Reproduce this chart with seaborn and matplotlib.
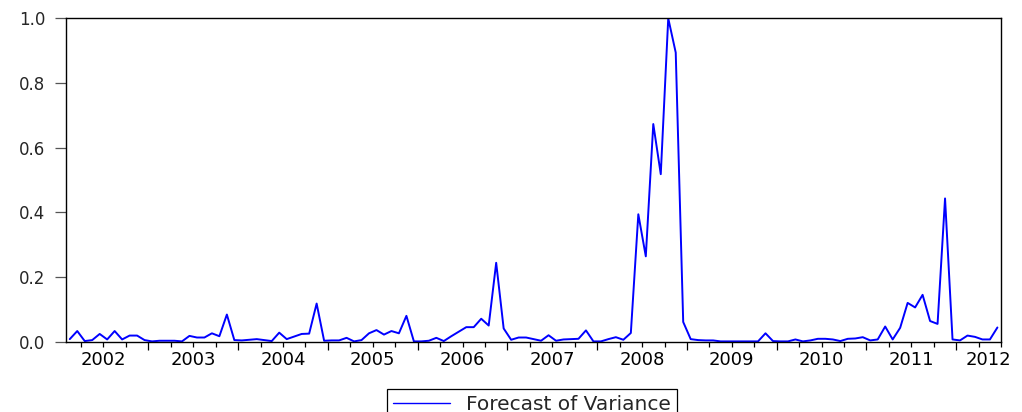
import numpy as np
import pandas as pd
import matplotlib
matplotlib.use("Agg")
import matplotlib.pyplot as plt
import matplotlib.transforms as mtransforms
import seaborn as sns

# monthly forecast of variance, 2002M02 .. 2012M06
variance = [
    0.008, 0.033, 0.002, 0.005, 0.024, 0.007, 0.033, 0.007, 0.019, 0.019,
    0.005, 0.001, 0.003, 0.003, 0.003, 0.001, 0.018, 0.013, 0.013, 0.026,
    0.017, 0.084, 0.005, 0.004, 0.006, 0.008, 0.005, 0.002, 0.028, 0.008,
    0.016, 0.024, 0.025, 0.118, 0.003, 0.004, 0.004, 0.012, 0.001, 0.005,
    0.026, 0.036, 0.022, 0.033, 0.026, 0.080, 0.001, 0.001, 0.003, 0.012,
    0.002, 0.017, 0.031, 0.045, 0.045, 0.071, 0.050, 0.244, 0.041, 0.006,
    0.013, 0.013, 0.008, 0.003, 0.020, 0.003, 0.007, 0.008, 0.009, 0.035,
    0.001, 0.001, 0.008, 0.014, 0.006, 0.027, 0.394, 0.264, 0.673, 0.518,
    1.000, 0.894, 0.061, 0.008, 0.005, 0.004, 0.004, 0.001, 0.001, 0.001,
    0.001, 0.001, 0.001, 0.026, 0.002, 0.001, 0.001, 0.007, 0.001, 0.004,
    0.009, 0.009, 0.007, 0.002, 0.009, 0.010, 0.014, 0.004, 0.007, 0.047,
    0.007, 0.043, 0.120, 0.106, 0.145, 0.064, 0.055, 0.443, 0.007, 0.004,
    0.019, 0.015, 0.007, 0.007, 0.044,
]
year_labels = ["2002", "2003", "2004", "2005", "2006", "2007",
               "2008", "2009", "2010", "2011", "2012"]
y_ticks = [0.0, 0.2, 0.4, 0.6, 0.8, 1.0]

dates = pd.date_range("2002-02-01", periods=len(variance), freq="MS")
df = pd.DataFrame({
    "t": dates.year + (dates.month - 0.5) / 12,
    "Forecast of Variance": variance,
})

sns.set_theme(style="ticks")
plt.rcParams["font.family"] = ["DejaVu Sans"]

fig = plt.figure(figsize=(10.22, 4.12), dpi=100)
ax = fig.add_axes([0.0646, 0.1706, 0.915, 0.785])

sns.lineplot(data=df, x="t", y="Forecast of Variance", color="#0000ff",
             linewidth=1.4, ax=ax, label="Forecast of Variance")

ax.set_xlabel("")
ax.set_ylabel("")

for s in ax.spines.values():
    s.set_visible(True)
    s.set_color("black")
    s.set_linewidth(1.0)

# y axis
ax.set_yticks(y_ticks)
ax.set_yticklabels([f"{v:.1f}" for v in y_ticks])
ax.tick_params(axis="y", direction="out", length=8, width=0.9, pad=7,
               labelsize=12, color="#555555", right=False)

# x axis: year boundaries + quarter ticks
yrs = [int(y) for y in year_labels]
ax.set_xticks(yrs[1:])
ax.set_xticklabels([])
quarters = [y + q for y in yrs for q in (0.25, 0.5, 0.75) if y + q <= 2012.5]
ax.set_xticks(quarters, minor=True)
ax.tick_params(axis="x", which="major", direction="out", length=5.5, width=0.9, color="black")
ax.tick_params(axis="x", which="minor", direction="out", length=3.5, width=0.9, color="black")

ax.set_xlim(2002 + 1 / 12, 2012.5)
ax.set_ylim(0, 1.0)

trans = mtransforms.blended_transform_factory(ax.transData, ax.transAxes)
for lab in year_labels:
    xpos = int(lab) + 0.5 if lab != "2012" else 2012.36
    ax.text(xpos, -0.057, lab, transform=trans, ha="center", va="center",
            fontsize=13, color="black")

ax.get_legend().remove()
leg = fig.legend(loc="upper center", bbox_to_anchor=(0.5205, 0.056),
                 fontsize=14.5, frameon=True, fancybox=False, framealpha=1,
                 edgecolor="black", handlelength=2.8, handletextpad=0.8,
                 borderpad=0.3, borderaxespad=0)
leg.get_frame().set_linewidth(0.9)
for h in leg.get_lines():
    h.set_linewidth(1.0)

fig.savefig("out.png", dpi=100)
